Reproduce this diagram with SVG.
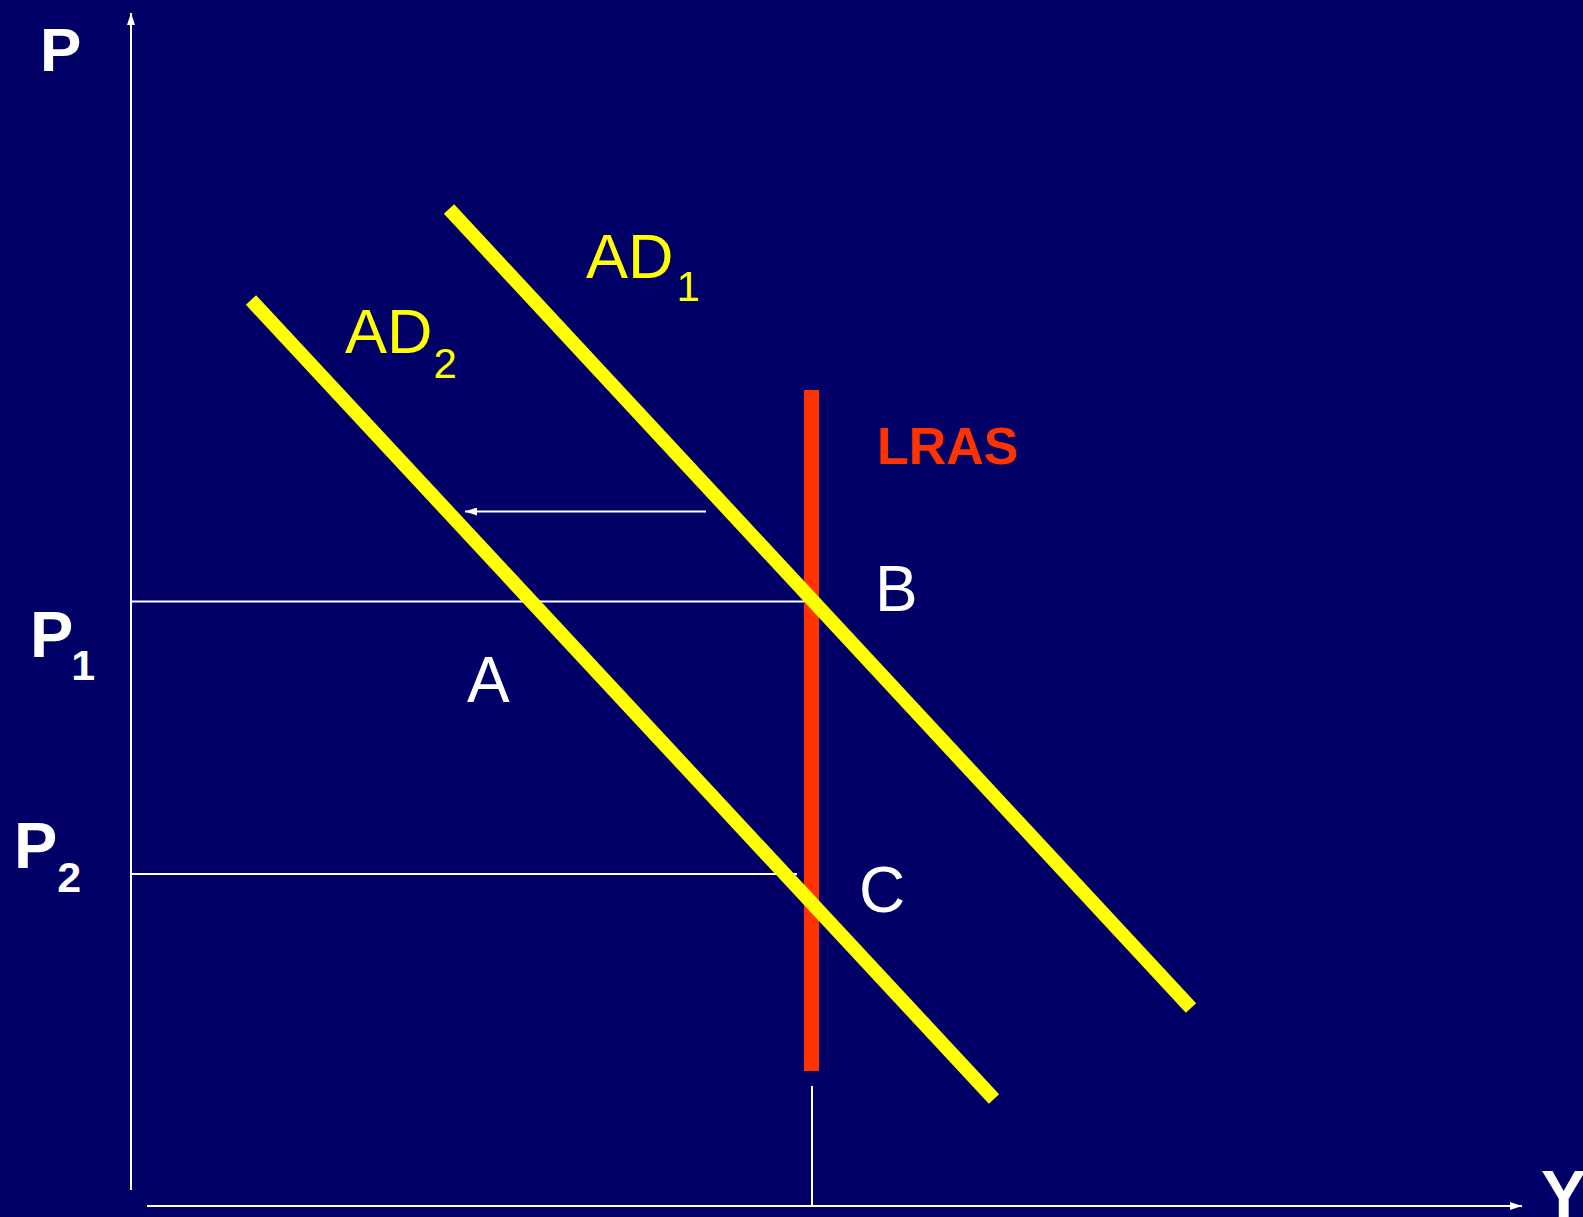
<svg xmlns="http://www.w3.org/2000/svg" width="1583" height="1217" viewBox="0 0 1583 1217">
<defs>
<style>
.ax{stroke:#ffffff;stroke-width:2;fill:none}
.ad{stroke:#ffff00;stroke-width:14;stroke-linecap:butt}
.w{fill:#ffffff;font-family:"Liberation Sans",Arial,sans-serif}
.b{font-weight:bold}
.y{fill:#ffff00;font-family:"Liberation Sans",Arial,sans-serif}
</style>
<marker id="ah2" viewBox="0 0 12 8" refX="12" refY="4" markerWidth="12" markerHeight="8" markerUnits="userSpaceOnUse" orient="auto">
<path d="M0,0 L12,4 L0,8 z" fill="#ffffff"/>
</marker>
</defs>
<rect width="1583" height="1217" fill="#000066"/>
<g id="connectors">
<line class="ax" x1="131" y1="1190" x2="131" y2="13" marker-end="url(#ah2)"/>
<line class="ax" x1="147" y1="1206" x2="1522" y2="1206" marker-end="url(#ah2)"/>
<line class="ax" x1="131" y1="601.5" x2="812" y2="601.5"/>
<line class="ax" x1="131" y1="874" x2="797" y2="874"/>
<line class="ax" x1="812" y1="1086" x2="812" y2="1206"/>
<line class="ax" x1="706" y1="511.5" x2="465" y2="511.5" marker-end="url(#ah2)"/>
</g>
<g id="LRAS">
<rect x="804" y="390" width="15" height="681" fill="#ff3300"/>
<text x="877" y="464" font-size="52" class="b" fill="#ff3300" font-family="Liberation Sans,Arial,sans-serif">LRAS</text>
</g>
<g id="AD1">
<line class="ad" x1="449" y1="209" x2="1191" y2="1008"/>
<text x="586" y="278" font-size="63" class="y">AD<tspan font-size="42" dx="3" dy="23">1</tspan></text>
</g>
<g id="AD2">
<line class="ad" x1="251" y1="300" x2="994" y2="1099"/>
<text x="345" y="353" font-size="63" class="y">AD<tspan font-size="42" dx="1" dy="25">2</tspan></text>
</g>
<g id="labels">
<text x="40" y="71" font-size="62" class="w b">P</text>
<text x="30" y="657" font-size="65" class="w b">P<tspan font-size="43" dx="-2" dy="23">1</tspan></text>
<text x="14" y="868" font-size="65" class="w b">P<tspan font-size="43" dy="24">2</tspan></text>
<text x="1541" y="1218" font-size="68" class="w b">Y</text>
<text x="875" y="611" font-size="64" class="w">B</text>
<text x="859" y="912" font-size="64" class="w">C</text>
<text x="467" y="702" font-size="64" class="w">A</text>
</g>
</svg>
